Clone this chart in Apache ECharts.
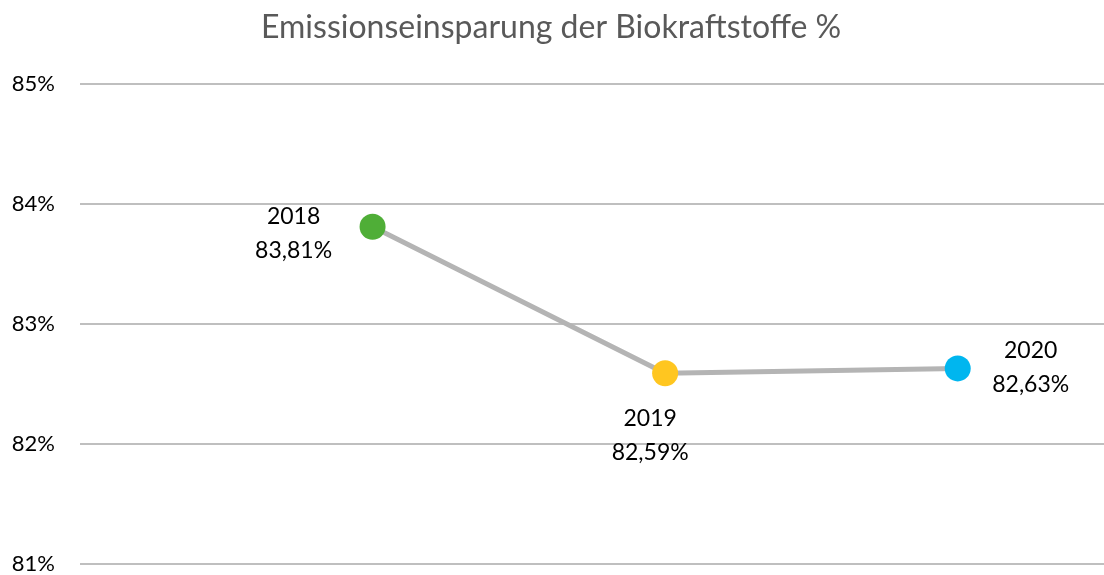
<!DOCTYPE html>
<html>
<head>
<meta charset="utf-8">
<script src="https://cdn.jsdelivr.net/npm/echarts@6/dist/echarts.min.js"></script>
<style>
  html, body { margin: 0; padding: 0; background: #fff; }
  #chart { width: 1104px; height: 575px; }
</style>
</head>
<body>
<div id="chart"></div>
<script>
// values
var years = ['2018', '2019', '2020'];
var savings = [83.81, 82.59, 82.63];
var pointColors = ['#4FAE37', '#FFC620', '#00B6EF'];
var labelOffsets = [[-79, 7], [-15, 62], [73, -1]];
var yTicks = [81, 82, 83, 84, 85];

var chart = echarts.init(document.getElementById('chart'));

var fmt = function (v) { return v.toFixed(2).replace('.', ','); };

var points = savings.map(function (v, i) {
    return {
        value: [i + 1, v],
        itemStyle: { color: pointColors[i] },
        label: {
            position: 'inside',
            align: 'center',
            verticalAlign: 'middle',
            offset: labelOffsets[i]
        }
    };
});

var option = {
    animation: false,
    title: {
        text: 'Emissionseinsparung der Biokraftstoffe %',
        left: 256,
        top: 7,
        textStyle: {
            fontFamily: 'Lato',
            fontSize: 32,
            fontWeight: 'normal',
            color: '#595959'
        }
    },
    grid: { left: 80, right: 0, top: 84, bottom: 8 },
    xAxis: {
        type: 'value',
        min: 0,
        max: 3.5,
        show: false
    },
    yAxis: {
        type: 'value',
        min: yTicks[0],
        max: yTicks[yTicks.length - 1],
        interval: 1,
        axisLine: { show: false },
        axisTick: { show: false },
        axisLabel: {
            margin: 25,
            formatter: function (v) { return v + '%'; },
            fontFamily: 'Lato',
            fontSize: 22,
            color: '#000'
        },
        splitLine: { lineStyle: { color: '#BFBFBF', width: 2 } }
    },
    series: [{
        type: 'line',
        data: points,
        symbol: 'circle',
        symbolSize: 26,
        lineStyle: { color: '#B4B4B4', width: 5 },
        label: {
            show: true,
            formatter: function (p) {
                return years[p.dataIndex] + '\n' + fmt(savings[p.dataIndex]) + '%';
            },
            fontFamily: 'Lato',
            fontSize: 23,
            lineHeight: 34,
            color: '#000'
        }
    }]
};

chart.setOption(option);
</script>
</body>
</html>
